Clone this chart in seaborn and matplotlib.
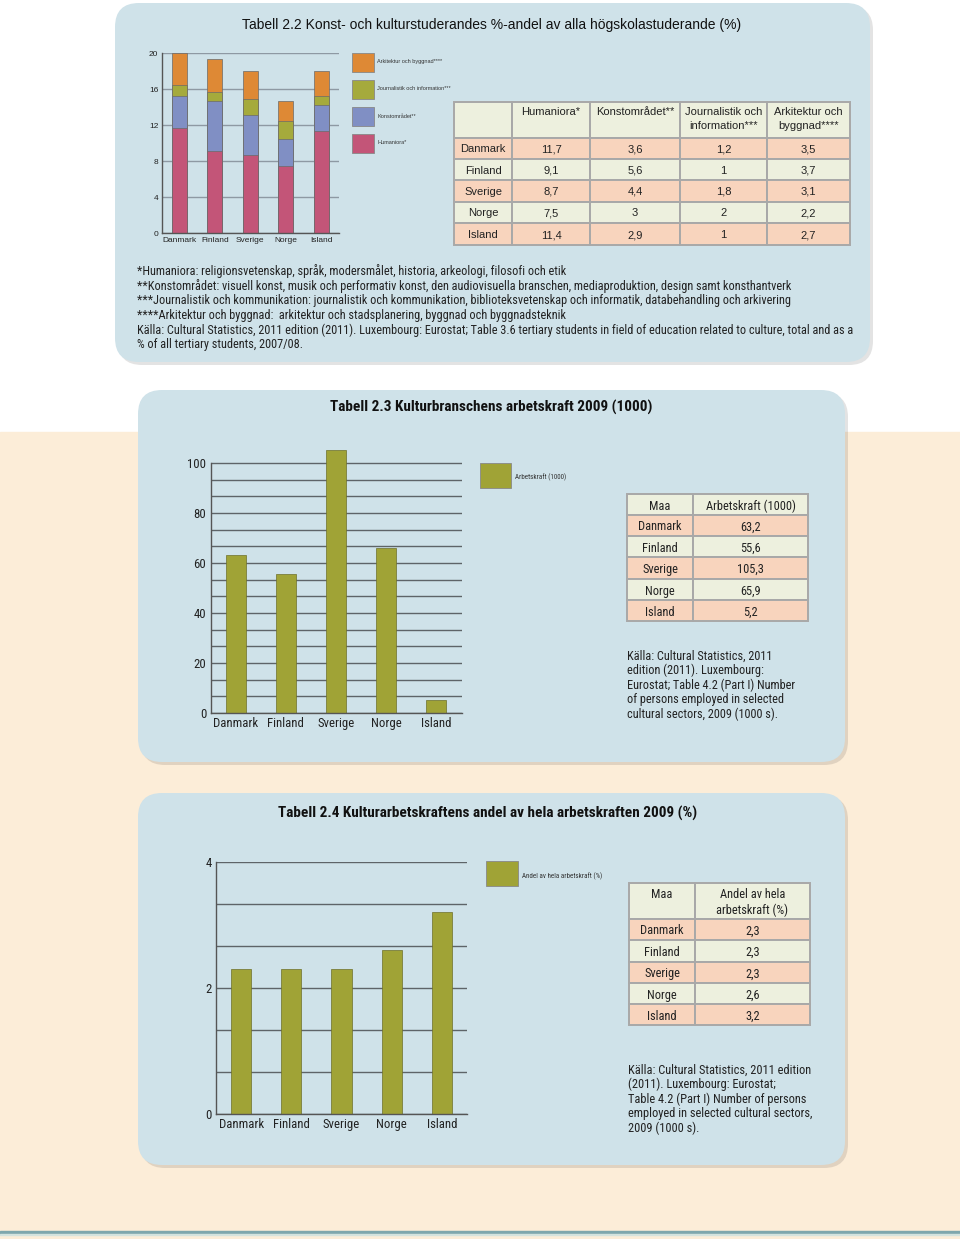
import matplotlib
matplotlib.use("Agg")
import matplotlib.pyplot as plt
from matplotlib.patches import FancyBboxPatch, Rectangle
from matplotlib.ticker import MultipleLocator
import numpy as np
import seaborn as sns

W, H = 960, 1239

countries = ["Danmark", "Finland", "Sverige", "Norge", "Island"]

# Tabell 2.2 (%-andel av alla högskolastuderande)
humaniora = [11.7, 9.1, 8.7, 7.5, 11.4]
konstomradet = [3.6, 5.6, 4.4, 3.0, 2.9]
journalistik = [1.2, 1.0, 1.8, 2.0, 1.0]
arkitektur = [3.5, 3.7, 3.1, 2.2, 2.7]
series_22 = ["Humaniora*", "Konstområdet**", "Journalistik och information***",
             "Arkitektur och byggnad****"]
head_22 = ["", "Humaniora*", "Konstområdet**", "Journalistik och\ninformation***",
           "Arkitektur och\nbyggnad****"]
ticks_22 = [0, 4, 8, 12, 16, 20]

# Tabell 2.3 (1000)
arbetskraft = [63.2, 55.6, 105.3, 65.9, 5.2]
head_23 = ["Maa", "Arbetskraft (1000)"]
ticks_23 = [0, 20, 40, 60, 80, 100]

# Tabell 2.4 (%)
andel = [2.3, 2.3, 2.3, 2.6, 3.2]
head_24 = ["Maa", "Andel av hela\narbetskraft (%)"]
ticks_24 = [0, 2, 4]

notes_22 = [
    "*Humaniora: religionsvetenskap, språk, modersmålet, historia, arkeologi, filosofi och etik",
    "**Konstområdet: visuell konst, musik och performativ konst, den audiovisuella branschen, mediaproduktion, design samt konsthantverk",
    "***Journalistik och kommunikation: journalistik och kommunikation, biblioteksvetenskap och informatik, databehandling och arkivering",
    "****Arkitektur och byggnad:  arkitektur och stadsplanering, byggnad och byggnadsteknik",
    "Källa: Cultural Statistics, 2011 edition (2011). Luxembourg: Eurostat; Table 3.6 tertiary students in field of education related to culture, total and as a",
    "% of all tertiary students, 2007/08.",
]
source_23 = ["Källa: Cultural Statistics, 2011", "edition (2011). Luxembourg:",
             "Eurostat; Table 4.2 (Part I) Number", "of persons employed in selected",
             "cultural sectors, 2009 (1000 s)."]
source_24 = ["Källa: Cultural Statistics, 2011 edition", "(2011). Luxembourg: Eurostat;",
             "Table 4.2 (Part I) Number of persons", "employed in selected cultural sectors,",
             "2009 (1000 s)."]

PANEL = "#CFE2E9"
CREAM = "#FCEDD8"
SALMON = "#F8D4BD"
LIGHT = "#EDF0DE"
OLIVE = "#A0A336"
colors_22 = ["#C35578", "#808FC4", "#A5AA3C", "#DE8935"]
NARROW = ["Roboto Condensed", "Liberation Sans Narrow", "Liberation Sans", "DejaVu Sans"]

sns.set_style("white")
plt.rcParams["font.family"] = ["Liberation Sans", "DejaVu Sans"]

fig = plt.figure(figsize=(W / 100, H / 100), dpi=100)
bg = fig.add_axes([0, 0, 1, 1])
bg.set_xlim(0, W)
bg.set_ylim(H, 0)
bg.axis("off")

# page background
bg.add_patch(Rectangle((0, 432), W, H - 432, color=CREAM, zorder=0))
bg.add_patch(Rectangle((0, 1231), W, 2.5, color="#7FA7AD", zorder=1))
bg.add_patch(Rectangle((0, 1233.5), W, 1.5, color="#D4E3DE", zorder=1))


def panel(x, y, w, h):
    bg.add_patch(FancyBboxPatch((x + 3, y + 3), w, h, boxstyle="round,pad=0,rounding_size=24",
                                fc=(0, 0, 0, 0.11), ec="none", zorder=1))
    bg.add_patch(FancyBboxPatch((x, y), w, h, boxstyle="round,pad=0,rounding_size=24",
                                fc=PANEL, ec="none", zorder=2))


panel(115, 3, 755, 359)
panel(138, 390, 707, 372)
panel(138, 793, 707, 372)


def fmt(v):
    return f"{v:g}".replace(".", ",")


def table(xe, ye, rows, fs, family, header_top=None, ls=1.3):
    for r, row in enumerate(rows):
        fill = LIGHT if r % 2 == 0 else SALMON
        for c, s in enumerate(row):
            bg.add_patch(Rectangle((xe[c], ye[r]), xe[c + 1] - xe[c], ye[r + 1] - ye[r],
                                   fc=fill, ec="#A8A8A8", lw=1.4, zorder=3))
            cx = (xe[c] + xe[c + 1]) / 2
            if r == 0 and header_top is not None:
                bg.text(cx, ye[0] + header_top, s, ha="center", va="top", fontsize=fs,
                        family=family, color="#222222", linespacing=ls, zorder=4)
            else:
                bg.text(cx, (ye[r] + ye[r + 1]) / 2, s, ha="center", va="center_baseline",
                        fontsize=fs, family=family, color="#222222", zorder=4)


def add_ax(x0, x1, y_top, y_bottom):
    return fig.add_axes([x0 / W, 1 - y_bottom / H, (x1 - x0) / W, (y_bottom - y_top) / H])


def style_ax(ax, yticks, fs, family, gridc, pad):
    ax.patch.set_visible(False)
    for s in ["top", "right"]:
        ax.spines[s].set_visible(False)
    for s in ["left", "bottom"]:
        ax.spines[s].set_color("#555555")
        ax.spines[s].set_linewidth(1.0)
    ax.set_xlabel("")
    ax.set_ylabel("")
    ax.set_yticks(yticks)
    ax.set_yticklabels([str(t) for t in yticks], fontsize=fs, family=family, color="#222222")
    ax.set_xticks(range(len(countries)))
    ax.set_xticklabels(countries, fontsize=fs, family=family, color="#222222")
    ax.set_xticks(np.arange(len(countries)) + 0.5, minor=True)
    ax.tick_params(axis="both", which="major", length=0, pad=pad)
    ax.tick_params(axis="x", which="minor", direction="in", length=5, color="#555555", width=1)
    ax.tick_params(axis="y", which="minor", length=0)
    ax.grid(axis="y", which="both", color=gridc, lw=1.0)
    ax.set_axisbelow(True)
    ax.set_xlim(-0.5, len(countries) - 0.5)


# ---- Tabell 2.2 ----
bg.text(492, 25, "Tabell 2.2 Konst- och kulturstuderandes %-andel av alla högskolastuderande (%)",
        ha="center", va="center", fontsize=10, color="#111111", zorder=4)

ax1 = add_ax(161.7, 339, 53.3, 233.3)
tops = np.cumsum([humaniora, konstomradet, journalistik, arkitektur], axis=0)
for i in reversed(range(len(series_22))):
    sns.barplot(x=countries, y=tops[i], color=colors_22[i], width=0.42, saturation=1,
                edgecolor="#6a6a6a", linewidth=0.5, ax=ax1)
ax1.set_ylim(0, 20)
style_ax(ax1, ticks_22, 6, ["Liberation Sans"], "#8E99A3", 2.5)

for i, name in enumerate(reversed(series_22)):
    y0 = 53 + i * 27
    bg.add_patch(Rectangle((352, y0), 22, 18.5, fc=colors_22[3 - i], ec="#888888", lw=0.6, zorder=3))
    bg.text(377, y0 + 9, name, ha="left", va="center", fontsize=4, color="#333333", zorder=4)

rows_22 = [head_22] + [[c, fmt(a), fmt(b), fmt(d), fmt(e)] for c, a, b, d, e in
                       zip(countries, humaniora, konstomradet, journalistik, arkitektur)]
table([454, 512, 590, 680, 767, 850], [102, 137.5, 159, 180, 202, 223, 245], rows_22,
      8, ["Liberation Sans"], header_top=5, ls=1.55)

for i, line in enumerate(notes_22):
    bg.text(137, 271 + i * 14.7, line, ha="left", va="center", fontsize=8.8,
            family=NARROW, color="#222222", zorder=4)

# ---- Tabell 2.3 ----
bg.text(491, 407, "Tabell 2.3 Kulturbranschens arbetskraft 2009 (1000)", ha="center",
        va="center", fontsize=11, family=NARROW, weight="bold", color="#111111", zorder=4)
ax2 = add_ax(210.5, 461.5, 713 - 106 * 2.5, 713)
sns.barplot(x=countries, y=arbetskraft, color=OLIVE, width=0.4, saturation=1,
            edgecolor="#6d6f2a", linewidth=0.5, ax=ax2)
ax2.set_ylim(0, 106)
ax2.yaxis.set_minor_locator(MultipleLocator(100 / 15))
style_ax(ax2, ticks_23, 9.2, NARROW, "#5E6468", 3)
ax2.spines["left"].set_bounds(0, 100)

bg.add_patch(Rectangle((480, 463), 31, 25, fc=OLIVE, ec="#888888", lw=0.6, zorder=3))
bg.text(515, 477, head_23[1], ha="left", va="center", fontsize=5, family=NARROW,
        color="#333333", zorder=4)
rows_23 = [head_23] + [[c, fmt(v)] for c, v in zip(countries, arbetskraft)]
table([627, 693, 808], [494, 515, 536, 557, 579, 600, 621], rows_23, 8.9, NARROW)
for i, line in enumerate(source_23):
    bg.text(627, 656 + i * 14.6, line, ha="left", va="center", fontsize=8.8,
            family=NARROW, color="#222222", zorder=4)

# ---- Tabell 2.4 ----
bg.text(488, 813, "Tabell 2.4 Kulturarbetskraftens andel av hela arbetskraften 2009 (%)",
        ha="center", va="center", fontsize=11, family=NARROW, weight="bold",
        color="#111111", zorder=4)
ax3 = add_ax(216, 467, 862, 1114)
sns.barplot(x=countries, y=andel, color=OLIVE, width=0.4, saturation=1,
            edgecolor="#6d6f2a", linewidth=0.5, ax=ax3)
ax3.set_ylim(0, 4)
ax3.yaxis.set_minor_locator(MultipleLocator(2 / 3))
style_ax(ax3, ticks_24, 9.2, NARROW, "#5E6468", 3)

bg.add_patch(Rectangle((486, 861), 32, 25, fc=OLIVE, ec="#888888", lw=0.6, zorder=3))
bg.text(522, 876, head_24[1].replace("\n", " "), ha="left", va="center", fontsize=5,
        family=NARROW, color="#333333", zorder=4)
rows_24 = [head_24] + [[c, fmt(v)] for c, v in zip(countries, andel)]
table([629, 695, 810], [883, 919, 940, 962, 983, 1004, 1025], rows_24, 8.9, NARROW,
      header_top=4.5)
for i, line in enumerate(source_24):
    bg.text(628, 1070 + i * 14.6, line, ha="left", va="center", fontsize=8.9,
            family=NARROW, color="#222222", zorder=4)

fig.savefig("out.png", dpi=100)
